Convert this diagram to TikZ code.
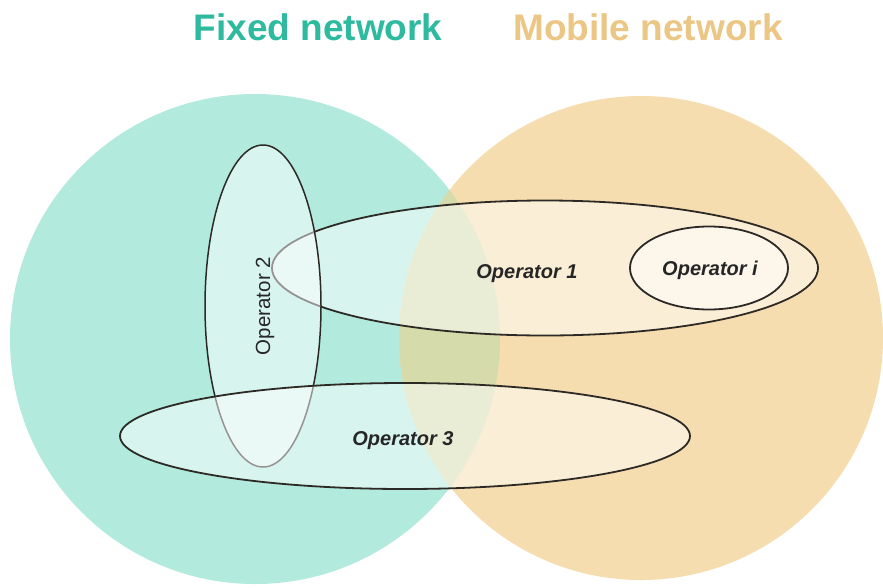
\documentclass[tikz,border=0pt]{standalone}
\usepackage{fontspec}
\setmainfont{Liberation Sans}
\usetikzlibrary{shapes.geometric}

\definecolor{fixedfill}{RGB}{178,234,222}
\definecolor{mobilefill}{RGB}{246,221,175}
\definecolor{lensfill}{RGB}{214,219,172}
\definecolor{fixedtitle}{RGB}{46,186,158}
\definecolor{mobiletitle}{RGB}{236,198,132}
\definecolor{opline}{RGB}{45,42,38}

\tikzset{
  network/.style={circle, draw=none, inner sep=0pt, minimum size=#1},
  operator/.style={ellipse, draw=opline, line width=1.8pt,
    fill=white, fill opacity=0.5, inner sep=0pt},
  optext/.style={font=\fontsize{20}{22}\selectfont\bfseries\itshape,
    text=black!85, anchor=base, inner sep=0pt},
  title/.style={font=\fontsize{37}{40}\selectfont\bfseries, anchor=base, inner sep=0pt}
}

\begin{document}
\begin{tikzpicture}[x=1pt, y=-1pt]
  \useasboundingbox (0,0) rectangle (883,587);
  \fill[white] (0,0) rectangle (883,587);

  % the two networks
  \node[network=490pt, fill=fixedfill] (fixed) at (255,339) {};
  \node[network=484pt, fill=mobilefill] (mobile) at (641,338) {};
  % their common area
  \begin{scope}
    \clip (255,339) circle[radius=245pt];
    \fill[lensfill] (641,338) circle[radius=242pt];
  \end{scope}

  % titles
  \node[title, text=fixedtitle] (fixedlabel) at (318,40) {Fixed network};
  \node[title, text=mobiletitle] (mobilelabel) at (648,40) {Mobile network};

  % operators, stacked from bottom to top
  \node[operator, minimum width=546pt, minimum height=135pt] (op1) at (545,268) {};
  \node[operator, minimum width=158pt, minimum height=83pt] (opi) at (709,268) {};
  \node[operator, line width=1.5pt, minimum width=116pt, minimum height=322pt] (op2) at (263,306) {};
  \node[operator, minimum width=570pt, minimum height=106pt] (op3) at (405,436) {};

  % operator names
  \node[optext] (op1name) at (527,278) {Operator 1};
  \node[optext] (opiname) at (710,275) {Operator i};
  \node[optext] (op3name) at (403,445) {Operator 3};
  \node[anchor=base, inner sep=0pt, rotate=90, text=black!85,
        font=\fontsize{20.5}{22}\selectfont] (op2name) at (270,306) {Operator 2};
\end{tikzpicture}
\end{document}
